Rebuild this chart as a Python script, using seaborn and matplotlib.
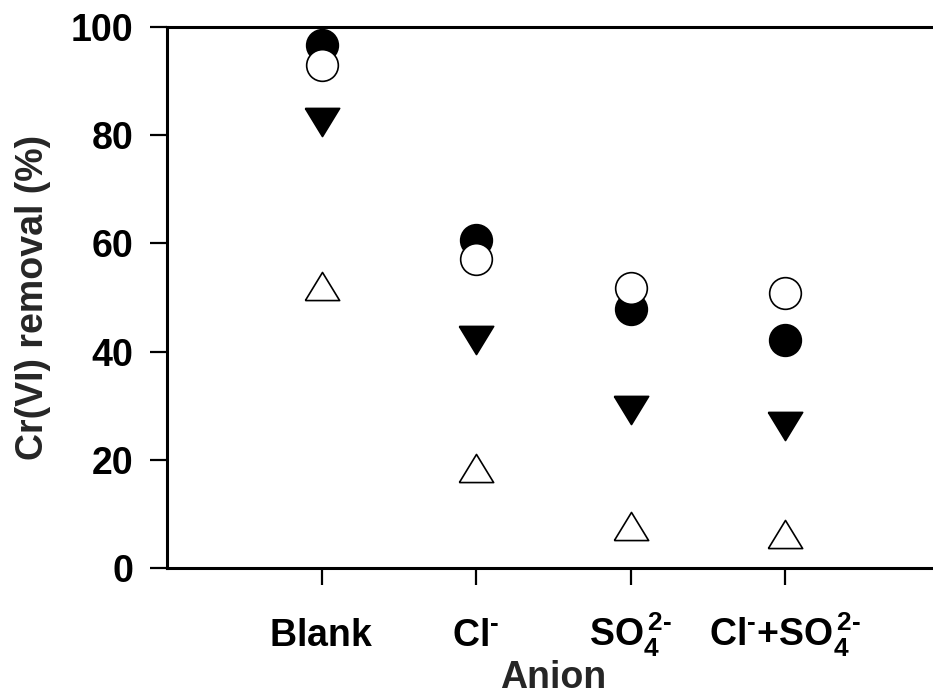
import numpy as np
import pandas as pd
import matplotlib
matplotlib.use("Agg")
import matplotlib.pyplot as plt
import seaborn as sns

# ---- data -------------------------------------------------------------
categories = ["Blank", "Cl-", "SO4 2-", "Cl- + SO4 2-"]
tick_labels = [r"$\mathbf{Blank}$",
               r"$\mathbf{Cl^{\text{-}}}$",
               r"$\mathbf{SO_{4}^{\/2\text{-}}}$",
               r"$\mathbf{Cl^{\text{-}}\text{+}SO_{4}^{\/2\text{-}}}$"]
y_ticks = [0, 20, 40, 60, 80, 100]

filled_circle = [96.6, 60.7, 47.9, 42.1]
open_circle = [93.0, 57.2, 51.7, 50.8]
filled_down_triangle = [82.4, 42.1, 29.3, 26.3]
open_up_triangle = [52.2, 18.6, 7.9, 6.4]

# ---- style ------------------------------------------------------------
sns.set_style("ticks")
plt.rcParams["font.family"] = ["Liberation Sans", "DejaVu Sans"]
plt.rcParams["font.weight"] = "bold"
plt.rcParams["mathtext.fontset"] = "custom"
plt.rcParams["mathtext.rm"] = "Liberation Sans:bold"
plt.rcParams["mathtext.bf"] = "Liberation Sans:bold"
plt.rcParams["mathtext.it"] = "Liberation Sans:bold"

pos = np.arange(1, len(categories) + 1)
df = pd.DataFrame({
    "pos": np.tile(pos, 4),
    "value": filled_circle + open_circle + filled_down_triangle + open_up_triangle,
    "series": (["filled_circle"] * 4 + ["open_circle"] * 4 +
               ["filled_down_triangle"] * 4 + ["open_up_triangle"] * 4),
})

tri_down = [(-0.5, 0.41), (0.5, 0.41), (0.0, -0.41), (-0.5, 0.41)]
tri_up = [(-0.5, -0.41), (0.5, -0.41), (0.0, 0.41), (-0.5, -0.41)]

styles = {
    "filled_circle": dict(marker="o", s=520, color="black", edgecolor="black"),
    "open_circle": dict(marker="o", s=520, color="white", edgecolor="black"),
    "filled_down_triangle": dict(marker=tri_down, s=610, color="black", edgecolor="black"),
    "open_up_triangle": dict(marker=tri_up, s=610, color="white", edgecolor="black"),
}

fig = plt.figure(figsize=(9.33, 6.93), dpi=100)
ax = fig.add_axes([167 / 933, (693 - 568.3) / 693, 772.5 / 933, 541.6 / 693])

for name in ["filled_circle", "open_circle", "filled_down_triangle", "open_up_triangle"]:
    sub = df[df["series"] == name]
    sns.scatterplot(data=sub, x="pos", y="value", ax=ax, legend=False,
                    linewidth=1.2, clip_on=False, zorder=3, **styles[name])

ax.set_xlim(0, 5)
ax.set_ylim(0, 100)
ax.set_xticks(pos)
ax.set_xticklabels(tick_labels)
ax.set_yticks(y_ticks)
ax.set_yticklabels([str(v) for v in y_ticks])

for side in ["left", "bottom", "top"]:
    ax.spines[side].set_linewidth(2.2)
    ax.spines[side].set_color("black")
ax.spines["right"].set_visible(False)

ax.tick_params(axis="both", direction="out", length=12.2, width=1.6,
               color="black", labelsize=27, labelcolor="black")
ax.tick_params(axis="y", pad=12)
ax.tick_params(axis="x", pad=44)
for t in ax.get_xticklabels():
    t.set_verticalalignment("baseline")

ax.set_xlabel("Anion", fontsize=27, fontweight="bold", labelpad=1)
ax.set_ylabel("Cr(VI) removal (%)", fontsize=27, fontweight="bold", labelpad=14)

fig.savefig("out.png", dpi=100)
